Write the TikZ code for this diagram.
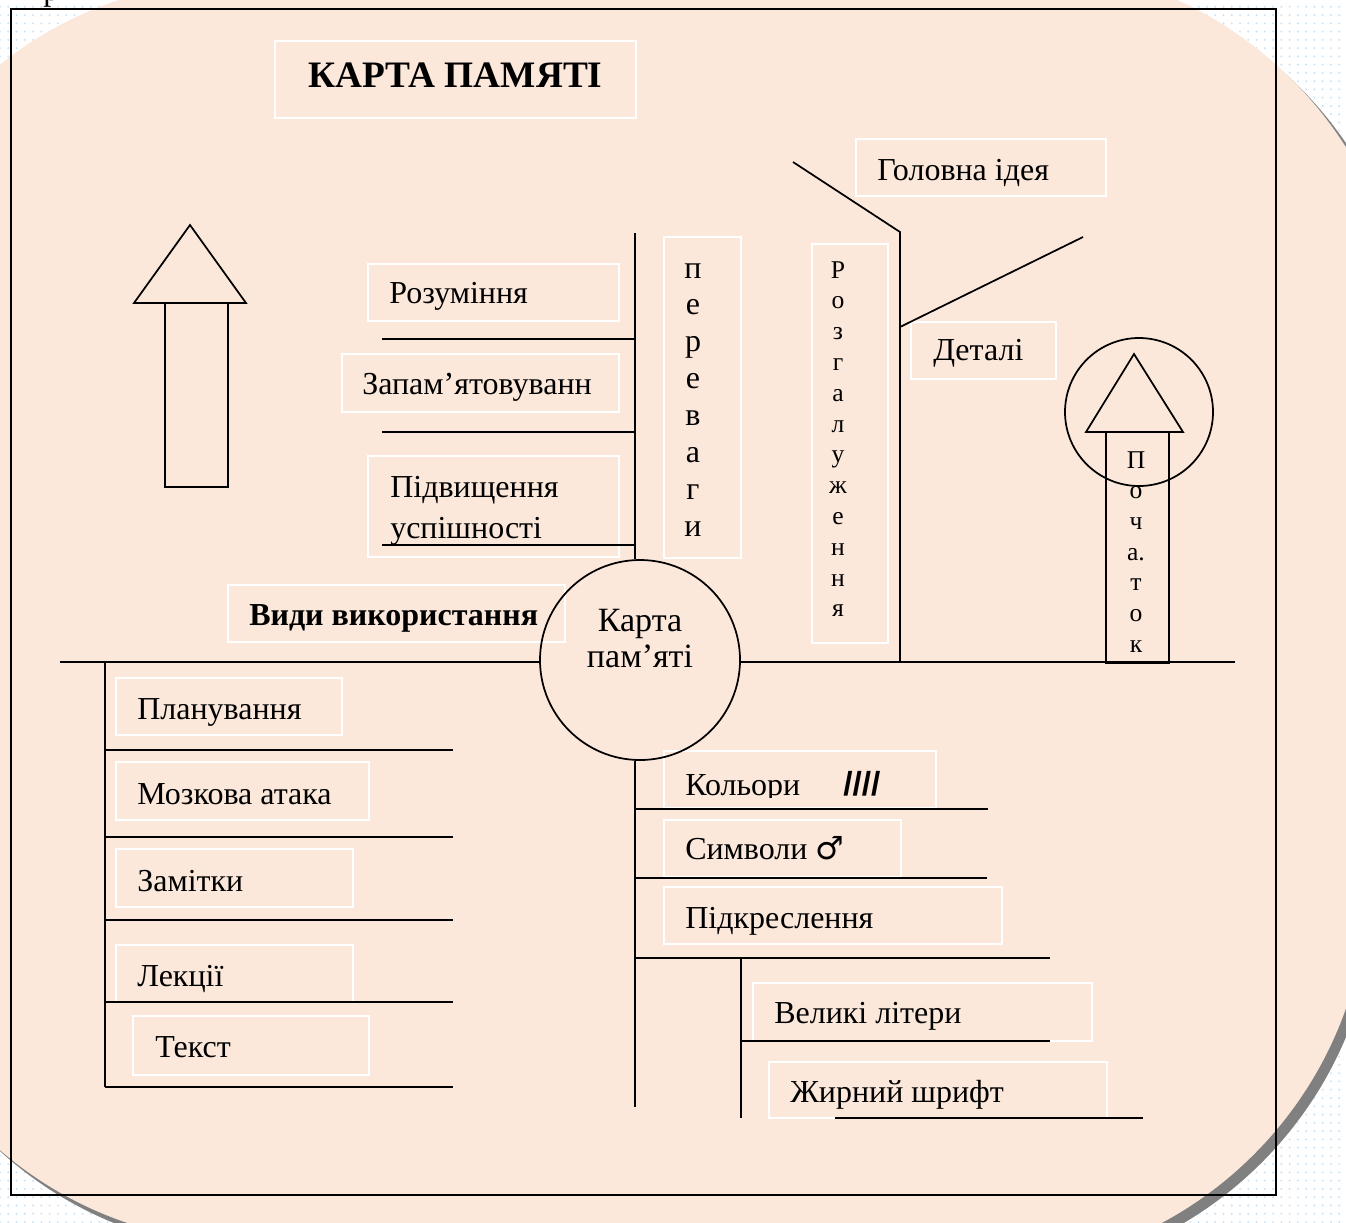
\documentclass[tikz,border=0pt]{standalone}
\usepackage{fontspec}
\setmainfont{Liberation Serif}
\newfontfamily\symbfont{DejaVu Sans}
\newfontfamily\slfont{Liberation Sans}
\usetikzlibrary{fit,patterns.meta}
\definecolor{peach}{RGB}{251,232,219}
\definecolor{dotblue}{RGB}{198,226,247}
\definecolor{shadowgrey}{RGB}{128,128,128}
\tikzset{
  ln/.style={draw=black,line width=1.3pt},
  wbox/.style={draw=white,line width=1.6pt,inner sep=0pt,rectangle},
  lbl/.style={anchor=base west,inner sep=0pt,font=\fontsize{24pt}{28pt}\selectfont},
  blbl/.style={anchor=base west,inner sep=0pt,font=\fontsize{24pt}{28pt}\selectfont\bfseries},
  ttl/.style={anchor=base west,inner sep=0pt,font=\fontsize{28pt}{32pt}\selectfont\bfseries},
  ctr/.style={anchor=base,inner sep=0pt,font=\fontsize{25.5pt}{30pt}\selectfont},
  vletA/.style={anchor=base,inner sep=0pt,font=\fontsize{24pt}{28pt}\selectfont},
  vletB/.style={anchor=base,inner sep=0pt,font=\fontsize{19.2pt}{23pt}\selectfont},
}
\begin{document}
\begin{tikzpicture}[x=0.75pt,y=-0.75pt]
\useasboundingbox (0,0) rectangle (1346,1222);
% background with dots
\fill[white] (0,0) rectangle (1346,1222);
\fill[pattern={Dots[distance=6.2pt,radius=0.8pt]},pattern color=dotblue] (0,0) rectangle (1346,1222);
% shadow
\begin{scope}[shift={(8,8)}]
\fill[shadowgrey] (-142,860) -- (-142,361)
  .. controls (-142,151) and (28,-19) .. (238,-19)
  -- (1016,-35) .. controls (1231,-35) and (1406,140) .. (1406,355)
  -- (1368,879) .. controls (1368,1094) and (1193,1269) .. (978,1269)
  -- (250,1243) .. controls (38.5,1243) and (-133,1071.5) .. (-133,860) -- cycle;
\end{scope}
% peach card
\fill[peach] (-142,860) -- (-142,361)
  .. controls (-142,151) and (28,-19) .. (238,-19)
  -- (1016,-35) .. controls (1231,-35) and (1406,140) .. (1406,355)
  -- (1368,879) .. controls (1368,1094) and (1193,1269) .. (978,1269)
  -- (250,1243) .. controls (38.5,1243) and (-133,1071.5) .. (-133,860) -- cycle;
% frame
\draw[line width=1.4pt] (11,9) rectangle (1276,1195);
\node[lbl] (strayp) at (43,0.5) {р};

% white boxes
\node[wbox,fit={(275,41) (636,118)}] (bTitle) {};
\node[wbox,fit={(368,264) (619,321)}] (bRozum) {};
\node[wbox,fit={(342,354) (619,412)}] (bZapam) {};
\node[wbox,fit={(368,456) (619,557)}] (bPidv) {};
\node[wbox,fit={(664,237) (741,558)}] (bPerev) {};
\node[wbox,fit={(812,244) (888,643)}] (bRozg) {};
\node[wbox,fit={(856,139) (1106,196)}] (bGolov) {};
\node[wbox,fit={(911,322) (1056,379)}] (bDetal) {};
\node[wbox,fit={(228,585) (565,642)}] (bVydy) {};
\node[wbox,fit={(116,678) (342,735)}] (bPlan) {};
\node[wbox,fit={(116,762) (369,820)}] (bMozk) {};
\node[wbox,fit={(116,849) (353,907)}] (bZamit) {};
\node[wbox,fit={(116,945) (353,1002)}] (bLekc) {};
\node[wbox,fit={(133,1016) (369,1075)}] (bTekst) {};
\node[wbox,fit={(664,751) (936,808)}] (bKolor) {};
\node[wbox,fit={(664,820) (901,877)}] (bSymv) {};
\node[wbox,fit={(664,887) (1002,944)}] (bPidkr) {};
\node[wbox,fit={(753,983) (1092,1041)}] (bVelyk) {};
\node[wbox,fit={(769,1062) (1107,1118)}] (bZhyr) {};

% hub
\node[circle,draw,line width=1.3pt,minimum size=150pt,inner sep=0pt] (hub) at (640,660) {};
\node[ctr] (hubA) at (640,631) {Карта};
\node[ctr] (hubB) at (640,667) {пам’яті};

% main axis
\coordinate (axL) at (60,662);
\coordinate (axR) at (1235,662);
\draw[ln] (axL) -- (hub.west |- axL);
\draw[ln] (hub.east |- axR) -- (axR);

% advantages branch
\coordinate (pvTop) at (635,233);
\draw[ln] (pvTop) -- (pvTop |- hub.north);
\foreach \yy/\nm in {339/a,432/b,545/c}{
  \coordinate (pvL\nm) at (382,\yy);
  \draw[ln] (pvL\nm) -- (pvTop |- pvL\nm);
}

% branching (top right)
\coordinate (brTop) at (900,232);
\coordinate (brDiag) at (793,162);
\coordinate (brJ) at (900,327);
\coordinate (brEnd) at (1083,237);
\draw[ln] (brDiag) -- (brTop) -- (brTop |- axR);
\draw[ln] (brJ) -- (brEnd);

% usage branch (bottom left)
\coordinate (usTop) at (105,662);
\coordinate (usBot) at (105,1087);
\draw[ln] (usTop) -- (usBot);
\foreach \yy/\nm in {750/a,837/b,920/c,1002/d,1087/e}{
  \coordinate (usR\nm) at (453,\yy);
  \draw[ln] (usTop |- usR\nm) -- (usR\nm);
}

% means branch (bottom right)
\coordinate (mnBot) at (635,1107);
\draw[ln] (mnBot |- hub.south) -- (mnBot);
\coordinate (mnRa) at (988,809);
\coordinate (mnRb) at (987,878);
\coordinate (mnRc) at (1050,958);
\draw[ln] (mnBot |- mnRa) -- (mnRa);
\draw[ln] (mnBot |- mnRb) -- (mnRb);
\draw[ln] (mnBot |- mnRc) -- (mnRc);
\coordinate (subTop) at (741,958);
\coordinate (subBot) at (741,1118);
\draw[ln] (subTop) -- (subBot);
\coordinate (subRa) at (1050,1041);
\draw[ln] (subTop |- subRa) -- (subRa);
\coordinate (subLb) at (835,1118);
\coordinate (subRb) at (1143,1118);
\draw[ln] (subLb) -- (subRb);

% left arrow
\draw[ln] (190,225) -- (246,303) -- (134,303) -- cycle;
\draw[ln] (165,303) rectangle (228,487);

% start arrow
\node[circle,draw,line width=1.3pt,minimum size=111pt,inner sep=0pt] (startC) at (1139,412) {};
\draw[ln] (1134,354) -- (1183,432) -- (1086,432) -- cycle;
\draw[ln] (1106,432) rectangle (1169,663);

% texts
\node[ttl] (tTitle) at (308,87) {КАРТА ПАМЯТІ};
\node[lbl] (tRozum) at (389,303) {Розуміння};
\node[lbl] (tZapam) at (362,394) {Запам’ятовуванн};
\node[lbl] (tPidvA) at (390,497) {Підвищення};
\node[lbl] (tPidvB) at (390,538) {успішності};
\node[lbl] (tGolov) at (877,180) {Головна ідея};
\node[lbl] (tDetal) at (933,360) {Деталі};
\node[blbl] (tVydy) at (249,625) {Види використання};
\node[lbl] (tPlan) at (137,719) {Планування};
\node[lbl] (tMozk) at (137,804) {Мозкова атака};
\node[lbl] (tZamit) at (137,891) {Замітки};
\node[lbl] (tLekc) at (137,986) {Лекції};
\node[lbl] (tTekst) at (155,1057) {Текст};
\begin{scope}
\clip (664,751) rectangle (940,797);
\node[lbl] (tKolor) at (685,795) {Кольори};
\node[lbl,font=\fontsize{25pt}{28pt}\selectfont\slfont\bfseries] (tSlash) at (843,795) {////};
\end{scope}
\node[lbl] (tSymv) at (685,859) {Символи {\symbfont\fontsize{24pt}{26pt}\selectfont ♂}};
\node[lbl] (tPidkr) at (685,928) {Підкреслення};
\node[lbl] (tVelyk) at (774,1023) {Великі літери};
\node[lbl] (tZhyr) at (790,1102) {Жирний шрифт};

% vertical letter stacks
\foreach \c [count=\i from 0] in {п,е,р,е,в,а,г,и}
  \node[vletA] (pv\i) at (693,{278+36.86*\i}) {\c};
\foreach \c [count=\i from 0] in {Р,о,з,г,а,л,у,ж,е,н,н,я}
  \node[vletB] (rz\i) at (838,{278+30.8*\i}) {\c};
\foreach \c [count=\i from 0] in {П,о,ч,а.,т,о,к}
  \node[vletB] (pc\i) at (1136,{468+30.7*\i}) {\c};
\end{tikzpicture}
\end{document}
